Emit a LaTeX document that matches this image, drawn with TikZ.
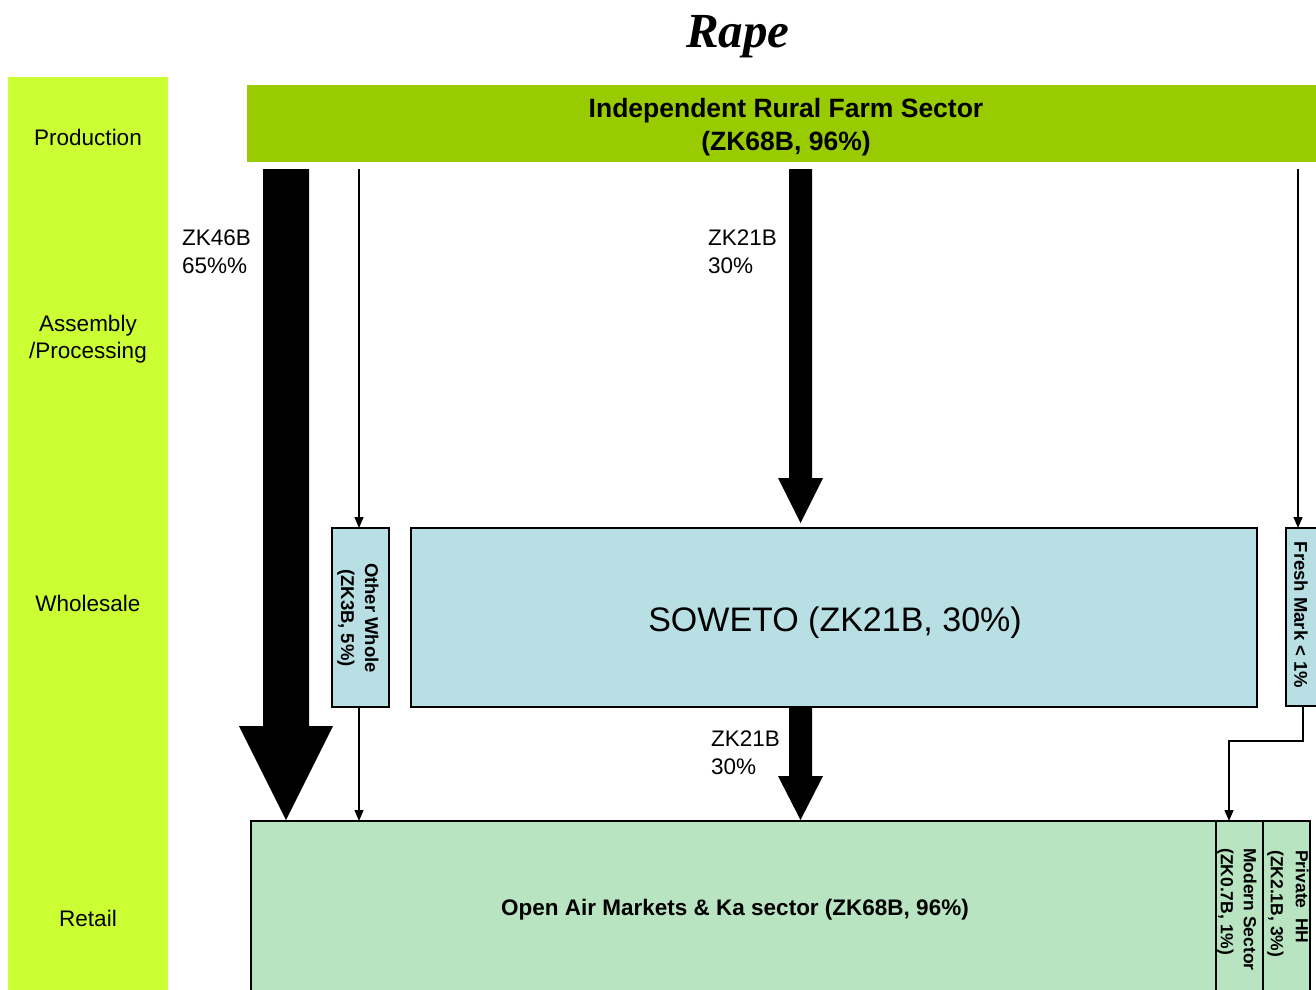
\documentclass[tikz,border=0pt]{standalone}
\usepackage{fontspec}
\setmainfont{Liberation Sans}
\newfontfamily\titlefont{Liberation Serif}
\usetikzlibrary{calc,arrows.meta}
\definecolor{colside}{RGB}{204,255,51}
\definecolor{colfarm}{RGB}{153,204,0}
\definecolor{colblue}{RGB}{184,224,228}
\definecolor{colgreen}{RGB}{185,228,193}
\newcommand\fatarrow[5]{\fill[black] ($(#1)+(-#3,0)$) -- ($(#2)+(-#3,-#5)$) -- ($(#2)+(-#4,-#5)$) -- (#2) -- ($(#2)+(#4,-#5)$) -- ($(#2)+(#3,-#5)$) -- ($(#1)+(#3,0)$) -- cycle;}
\begin{document}
\begin{tikzpicture}[x=1pt,y=-1pt,
 box/.style={draw=black,line width=1.2pt,anchor=north west,inner sep=0pt,outer sep=0pt},
 plain/.style={anchor=north west,inner sep=0pt,outer sep=0pt},
 lbl/.style={font=\fontsize{22.5}{27.5}\selectfont,inner sep=0pt,align=center},
 rot/.style={font=\fontsize{18.5}{24}\selectfont\bfseries,rotate=-90,inner sep=0pt,align=center},
 thinarrow/.style={line width=1.2pt,-{Triangle[length=11pt,width=9pt]}}]
\useasboundingbox (0,0) rectangle (1316,989);
% side column
\node[plain,fill=colside,minimum width=160pt,minimum height=920pt] (side) at (8,77) {};
\node[lbl] (lprod) at (88,137) {Production};
\node[lbl] (lasm) at (88,339) {Assembly\\/Processing};
\node[lbl] (lwhole) at (88,603) {Wholesale};
\node[lbl] (lret) at (88,918) {Retail};
% title
\node[font=\titlefont\fontsize{49}{55}\selectfont\bfseries\itshape] (title) at (738,37) {Rape};
% farm sector
\node[plain,fill=colfarm,minimum width=1075pt,minimum height=77pt] (farm) at (247,85) {};
\node[lbl,font=\fontsize{26.5}{33}\selectfont\bfseries] (farmtxt) at (786,127) {Independent Rural Farm Sector\\(ZK68B, 96\%)};
% wholesale boxes
\node[box,fill=colblue,minimum width=57pt,minimum height=179pt] (other) at (332,528) {};
\node[rot] (othertxt) at (358,618) {Other Whole\\(ZK3B, 5\%)};
\node[box,fill=colblue,minimum width=846pt,minimum height=179pt] (soweto) at (411,528) {};
\node[font=\fontsize{34}{40}\selectfont] (sowetotxt) at (835,623) {SOWETO (ZK21B, 30\%)};
\node[box,fill=colblue,minimum width=34pt,minimum height=178pt] (fresh) at (1286,528) {};
\node[rot] (freshtxt) at (1301,615) {Fresh Mark < 1\%};
% retail boxes
\node[box,fill=colgreen,minimum width=965pt,minimum height=190pt] (main) at (251,821) {};
\node[lbl,font=\fontsize{22.5}{27.5}\selectfont\bfseries] (maintxt) at (735,910) {Open Air Markets \& Ka sector (ZK68B, 96\%)};
\node[box,fill=colgreen,minimum width=47pt,minimum height=190pt] (modern) at (1216,821) {};
\node[rot,align=left,anchor=west,font=\fontsize{17.5}{23}\selectfont\bfseries] (moderntxt) at (1237,848) {Modern Sector\\(ZK0.7B, 1\%)};
\node[box,fill=colgreen,minimum width=47pt,minimum height=190pt] (private) at (1263,821) {};
\node[rot,align=left,anchor=west,font=\fontsize{17.5}{25}\selectfont\bfseries] (privatetxt) at (1288,850) {Private\ \ HH\\(ZK2.1B, 3\%)};
% flow labels
\node[lbl,align=left,anchor=west] (l1) at (182,251.5) {ZK46B\\65\%\%};
\node[lbl,align=left,anchor=west] (l2) at (708,251.5) {ZK21B\\30\%};
\node[lbl,align=left,anchor=west] (l3) at (711,752.5) {ZK21B\\30\%};
% coordinates
\coordinate (ftop) at ([yshift=-7pt]farm.south);
\coordinate (rx) at (1298,0);
\coordinate (fx) at (1303,0);
\coordinate (mx) at (1229,0);
\coordinate (ox) at (359,0);
\coordinate (cx) at (800.5,0);
\coordinate (lx) at (286,0);
% thin connectors
\draw[thinarrow] (ftop -| ox) -- (ox |- other.north);
\draw[thinarrow] (ox |- other.south) -- (ox |- main.north);
\draw[thinarrow] (ftop -| rx) -- (rx |- fresh.north);
\draw[thinarrow] (fx |- fresh.south) -- ++(0,35) -| (mx |- modern.north);
% fat arrows
\coordinate (a1s) at (ftop -| lx);
\coordinate (a1e) at ($(main.north -| lx)+(0,-1)$);
\fatarrow{a1s}{a1e}{23}{47}{94}
\coordinate (a2s) at (ftop -| cx);
\coordinate (a2e) at ($(soweto.north -| cx)+(0,-5)$);
\fatarrow{a2s}{a2e}{11.5}{22.5}{45}
\coordinate (a3s) at (soweto.south -| cx);
\coordinate (a3e) at ($(main.north -| cx)+(0,-1)$);
\fatarrow{a3s}{a3e}{11.5}{22.5}{44}
\end{tikzpicture}
\end{document}
